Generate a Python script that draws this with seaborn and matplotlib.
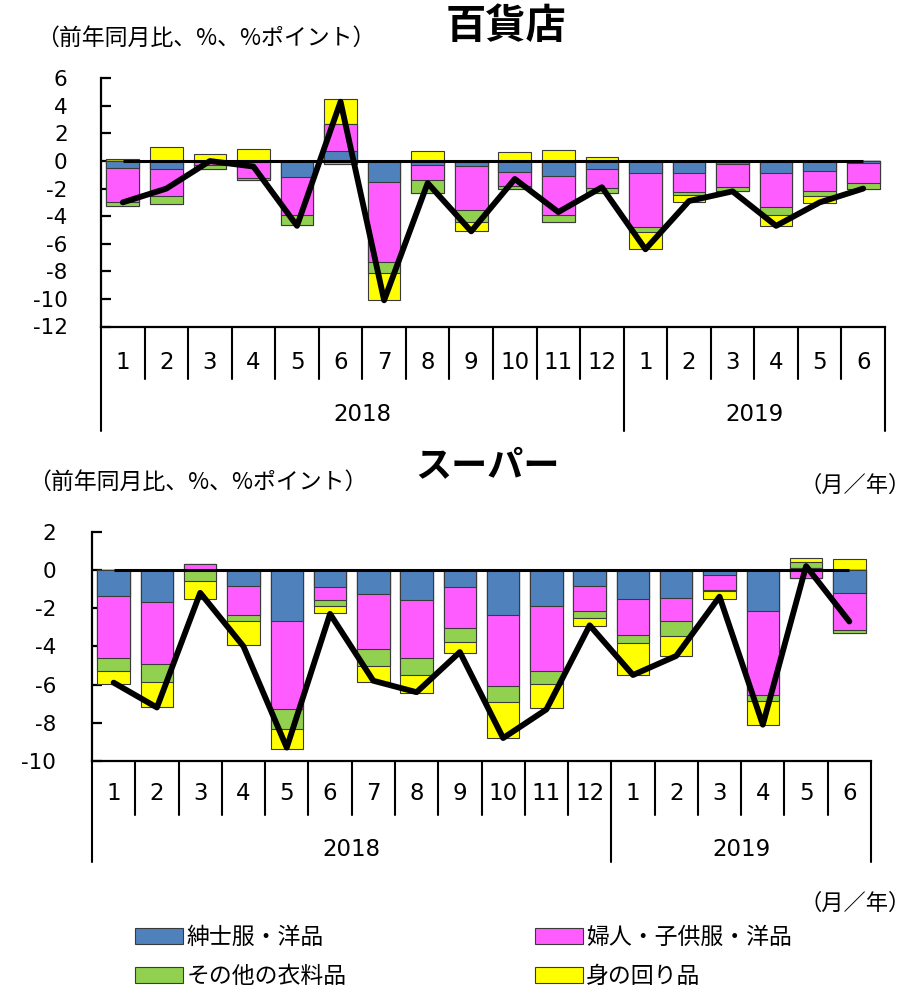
import numpy as np
import matplotlib
matplotlib.use("Agg")
import matplotlib.pyplot as plt
from matplotlib.patches import Patch
import seaborn as sns

# ── data ──────────────────────────────────────────────────────────────────────
MONTHS = [1, 2, 3, 4, 5, 6, 7, 8, 9, 10, 11, 12, 1, 2, 3, 4, 5, 6]
YEARS = [2018] * 12 + [2019] * 6
CATS = [f"{y}-{m}" for y, m in zip(YEARS, MONTHS)]

SERIES = ["紳士服・洋品", "婦人・子供服・洋品", "その他の衣料品", "身の回り品"]
COLORS = ["#4F81BD", "#FF5CFF", "#92D050", "#FFFF00"]

# 百貨店 (department stores)
dept_mens = [-0.5, -0.6, 0.0, -0.1, -1.15, 0.7, -1.5, -0.3, -0.35, -0.8, -1.05, -0.55,
             -0.9, -0.9, -0.25, -0.85, -0.75, -0.15]
dept_women = [-2.5, -1.9, -0.3, -1.1, -2.8, 2.0, -5.8, -1.05, -3.2, -1.0, -2.9, -1.4,
              -3.85, -1.35, -1.6, -2.5, -1.4, -1.45]
dept_other = [-0.25, -0.6, -0.3, -0.15, -0.7, -0.25, -0.85, -1.0, -0.85, -0.2, -0.5, -0.35,
              -0.4, -0.2, -0.35, -0.55, -0.35, -0.4]
dept_acc = [0.15, 1.0, 0.5, 0.9, 0.0, 1.8, -1.95, 0.7, -0.7, 0.65, 0.8, 0.3,
            -1.2, -0.5, 0.0, -0.8, -0.55, 0.0]
dept_total = [-3.0, -2.0, 0.0, -0.4, -4.7, 4.3, -10.1, -1.6, -5.1, -1.3, -3.7, -1.9,
              -6.4, -2.9, -2.2, -4.7, -3.0, -2.0]

# スーパー (supermarkets)
sup_mens = [-1.35, -1.7, 0.0, -0.85, -2.65, -0.9, -1.25, -1.6, -0.9, -2.35, -1.9, -0.85,
            -1.5, -1.45, -0.25, -2.15, 0.1, -1.2]
sup_women = [-3.25, -3.2, 0.3, -1.5, -4.65, -0.7, -2.9, -3.0, -2.15, -3.7, -3.4, -1.3,
             -1.9, -1.2, -0.8, -4.4, -0.4, -1.95]
sup_other = [-0.7, -0.95, -0.6, -0.3, -1.05, -0.3, -0.9, -0.9, -0.7, -0.85, -0.65, -0.35,
             -0.45, -0.8, -0.05, -0.3, 0.3, -0.15]
sup_acc = [-0.65, -1.3, -0.9, -1.3, -1.0, -0.35, -0.8, -0.95, -0.6, -1.9, -1.3, -0.45,
           -1.65, -1.05, -0.4, -1.25, 0.2, 0.55]
sup_total = [-5.9, -7.2, -1.2, -4.0, -9.3, -2.3, -5.8, -6.4, -4.3, -8.8, -7.3, -2.9,
             -5.5, -4.5, -1.4, -8.1, 0.2, -2.7]

YLABEL = "（前年同月比、%、%ポイント）"
UNIT = "（月／年）"

# ── style ─────────────────────────────────────────────────────────────────────
sns.set_style("white")
plt.rcParams["font.family"] = ["DejaVu Sans", "Noto Sans CJK JP"]
plt.rcParams["axes.unicode_minus"] = False
for key in ["text.color", "axes.labelcolor", "xtick.color", "ytick.color"]:
    plt.rcParams[key] = "black"
JP = ["Noto Sans CJK JP", "DejaVu Sans"]

W, H = 915, 989
fig = plt.figure(figsize=(W / 100, H / 100), dpi=100)


def px_axes(left, top, right, bottom):
    return fig.add_axes([left / W, 1 - bottom / H, (right - left) / W, (bottom - top) / H])


def draw_panel(ax, parts, total, ylim, yticks, row1, row2, lab1, lab2, pad):
    vals = np.array(parts, dtype=float)
    pos_cum = np.cumsum(np.clip(vals, 0, None), axis=0)
    neg_cum = np.cumsum(np.clip(vals, None, 0), axis=0)
    # outer segments first, inner ones drawn on top -> stacked look
    for k in reversed(range(len(parts))):
        for cum in (pos_cum[k], neg_cum[k]):
            sns.barplot(x=CATS, y=cum, order=CATS, color=COLORS[k], saturation=1,
                        width=0.75, edgecolor="#3a3a3a", linewidth=0.8,
                        errorbar=None, ax=ax)
    n = len(CATS)
    ax.hlines(0, 0, n - 1, color="black", lw=2.2, zorder=5)
    sns.lineplot(x=np.arange(n), y=total, color="black", lw=4.2, ax=ax,
                 sort=False, zorder=6)

    ax.set_xlim(-0.5, n - 0.5)
    ax.set_ylim(*ylim)
    ax.set_yticks(yticks)
    ax.set_xticks([])
    ax.set_xlabel("")
    ax.set_ylabel("")
    for s in ["top", "right"]:
        ax.spines[s].set_visible(False)
    for s in ["left", "bottom"]:
        ax.spines[s].set_linewidth(1.6)
        ax.spines[s].set_color("black")
    ax.tick_params(axis="y", direction="in", length=7, width=1.6,
                   labelsize=15.5, pad=pad, left=True)

    # category table under the axis
    tr = ax.get_xaxis_transform()
    for i in range(n + 1):
        x = i - 0.5
        deep = i in (0, 12, n)
        ax.plot([x, x], [0, row2 if deep else row1], transform=tr,
                color="black", lw=1.5, clip_on=False)
    for i, m in enumerate(MONTHS):
        ax.text(i, lab1, str(m), transform=tr, ha="center", va="center",
                fontsize=16.5)
    ax.text(5.5, lab2, "2018", transform=tr, ha="center", va="center", fontsize=16.5)
    ax.text(14.5, lab2, "2019", transform=tr, ha="center", va="center", fontsize=16.5)


# top panel: 百貨店
ax1 = px_axes(101, 78.3, 885, 326.5)
draw_panel(ax1, [dept_mens, dept_women, dept_other, dept_acc], dept_total,
           (-12, 6), np.arange(-12, 7, 2), -52 / 248, -104 / 248,
           -36 / 248, -88 / 248, 24)
fig.text(506 / W, 1 - 27 / H, "百貨店", family=JP, fontsize=29, fontweight="bold",
         ha="center", va="center")
fig.text(36 / W, 1 - 38 / H, YLABEL, family=JP, fontsize=16.5, ha="left", va="center")
fig.text(855 / W, 1 - 485 / H, UNIT, family=JP, fontsize=16, ha="center", va="center")

# bottom panel: スーパー
ax2 = px_axes(92, 531.7, 871, 761)
draw_panel(ax2, [sup_mens, sup_women, sup_other, sup_acc], sup_total,
           (-10, 2), np.arange(-10, 3, 2), -54 / 229.3, -101 / 229.3,
           -33 / 229.3, -89 / 229.3, 26)
fig.text(487 / W, 1 - 467 / H, "スーパー", family=JP, fontsize=26, fontweight="bold",
         ha="center", va="center")
fig.text(28 / W, 1 - 482 / H, YLABEL, family=JP, fontsize=16.5, ha="left", va="center")
fig.text(855 / W, 1 - 903 / H, UNIT, family=JP, fontsize=16, ha="center", va="center")

# legend (column-wise fill: 紳士服, その他 | 婦人, 身の回り)
handles = [Patch(facecolor=COLORS[k], edgecolor="#3a3a3a", lw=0.8, label=SERIES[k])
           for k in (0, 2, 1, 3)]
fig.legend(handles=handles, ncol=2, loc="upper left",
           bbox_to_anchor=(135 / W, 1 - 926 / H), frameon=False,
           borderpad=0, borderaxespad=0,
           prop={"family": JP, "size": 16.5}, handlelength=2.1, handleheight=0.7,
           handletextpad=0.15, columnspacing=8.2, labelspacing=0.7)

fig.savefig("out.png", dpi=100)
